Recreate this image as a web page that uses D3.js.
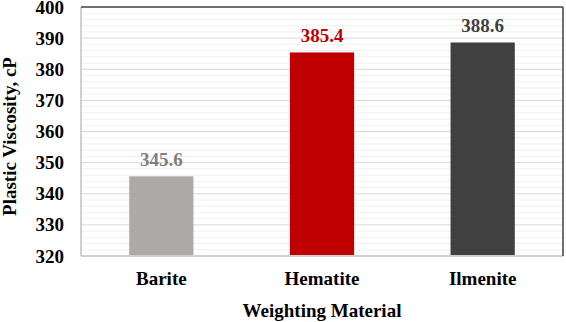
<!DOCTYPE html>
<html>
<head>
<meta charset="utf-8">
<script src="https://cdn.jsdelivr.net/npm/d3@7"></script>
<style>
  body { margin: 0; background: #fff; }
  svg text { font-family: "Liberation Serif", "Times New Roman", serif; font-weight: bold; font-size: 19px; }
</style>
</head>
<body>
<div id="main"></div>
<script>
const categories = ['Barite', 'Hematite', 'Ilmenite'];
const values = [345.6, 385.4, 388.6];
const barColors = ['#aeaaaa', '#c00000', '#404040'];
const labelColors = ['#7f7f7f', '#c00000', '#404040'];
const yTicks = [320, 330, 340, 350, 360, 370, 380, 390, 400];

const width = 566, height = 322;
const margin = { left: 81, right: 3, top: 7, bottom: 66 };

const svg = d3.select('#main').append('svg')
  .attr('width', width).attr('height', height);

const x = d3.scaleBand()
  .domain(categories)
  .range([margin.left, width - margin.right])
  .paddingInner(0.6).paddingOuter(0.3);

const y = d3.scaleLinear()
  .domain([320, 400])
  .range([height - margin.bottom, margin.top]);

// minor grid every 2
svg.append('g').selectAll('line')
  .data(d3.range(322, 400, 2).filter(v => v % 10 !== 0))
  .join('line')
  .attr('x1', margin.left).attr('x2', width - margin.right)
  .attr('y1', d => y(d)).attr('y2', d => y(d))
  .attr('stroke', '#f0f0f0').attr('stroke-width', 1);

// major grid
svg.append('g').selectAll('line')
  .data(yTicks.slice(1, -1))
  .join('line')
  .attr('x1', margin.left).attr('x2', width - margin.right)
  .attr('y1', d => y(d)).attr('y2', d => y(d))
  .attr('stroke', '#d9d9d9').attr('stroke-width', 1);

// bars
svg.append('g').selectAll('rect')
  .data(values)
  .join('rect')
  .attr('x', (d, i) => x(categories[i]))
  .attr('width', x.bandwidth())
  .attr('y', d => y(d))
  .attr('height', d => y(320) - y(d))
  .attr('fill', (d, i) => barColors[i]);

// value labels
svg.append('g').selectAll('text')
  .data(values)
  .join('text')
  .attr('x', (d, i) => x(categories[i]) + x.bandwidth() / 2)
  .attr('y', d => y(d) - 10)
  .attr('text-anchor', 'middle')
  .attr('fill', (d, i) => labelColors[i])
  .text(d => d.toFixed(1));

// frame: left & bottom light, top & right dark
svg.append('line')
  .attr('x1', margin.left).attr('x2', margin.left)
  .attr('y1', margin.top).attr('y2', y(320))
  .attr('stroke', '#d0d0d0').attr('stroke-width', 2);
svg.append('line')
  .attr('x1', margin.left).attr('x2', width - margin.right)
  .attr('y1', y(320)).attr('y2', y(320))
  .attr('stroke', '#d0d0d0').attr('stroke-width', 2);
svg.append('line')
  .attr('x1', margin.left).attr('x2', width - margin.right)
  .attr('y1', margin.top).attr('y2', margin.top)
  .attr('stroke', '#404040').attr('stroke-width', 1.5);
svg.append('line')
  .attr('x1', width - margin.right).attr('x2', width - margin.right)
  .attr('y1', margin.top).attr('y2', y(320))
  .attr('stroke', '#404040').attr('stroke-width', 1.5);

// y axis
const yAxis = d3.axisLeft(y).tickValues(yTicks).tickSize(0).tickPadding(17);
svg.append('g')
  .attr('transform', `translate(${margin.left},0)`)
  .call(yAxis)
  .call(g => g.select('.domain').remove())
  .selectAll('text')
  .attr('fill', '#000');

// x axis
const xAxis = d3.axisBottom(x).tickSize(0).tickPadding(16);
svg.append('g')
  .attr('transform', `translate(0,${y(320)})`)
  .call(xAxis)
  .call(g => g.select('.domain').remove())
  .selectAll('text')
  .attr('fill', '#000');

// axis titles
svg.append('text')
  .attr('x', (margin.left + width - margin.right) / 2)
  .attr('y', 317)
  .attr('text-anchor', 'middle')
  .text('Weighting Material');

svg.append('text')
  .attr('transform', `translate(16,${(margin.top + y(320)) / 2 + 5}) rotate(-90)`)
  .attr('text-anchor', 'middle')
  .text('Plastic Viscosity, cP');
</script>
</body>
</html>
